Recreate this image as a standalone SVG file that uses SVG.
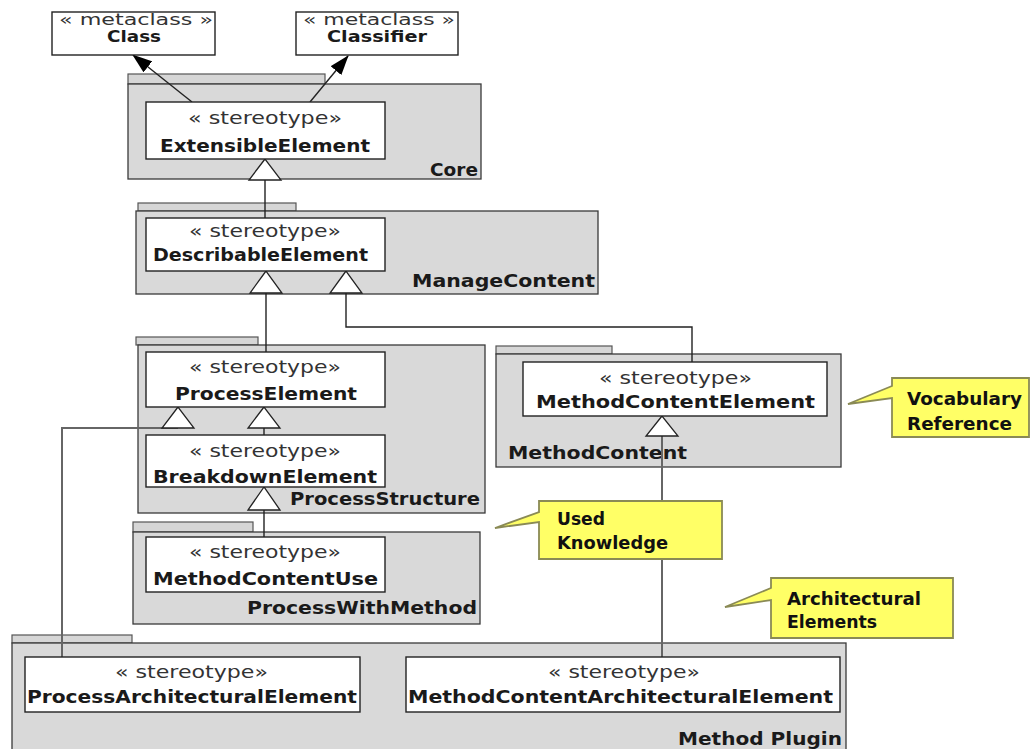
<svg xmlns="http://www.w3.org/2000/svg" width="1032" height="749" viewBox="0 0 1032 749">
<style>
.pkg{fill:#d9d9d9;stroke:#3a3a3a;stroke-width:1.3}
.tab{fill:#d6d6d6;stroke:#555;stroke-width:1.2}
.box{fill:#fff;stroke:#222;stroke-width:1.4}
.st{font-family:"DejaVu Sans",sans-serif;font-size:17px;fill:#333}
.mc{font-family:"DejaVu Sans",sans-serif;font-size:15px;fill:#333}
.nm{font-family:"DejaVu Sans",sans-serif;font-size:18px;font-weight:bold;fill:#1a1a1a}
.mn{font-family:"DejaVu Sans",sans-serif;font-size:15px;font-weight:bold;fill:#1a1a1a}
.pn{font-family:"DejaVu Sans",sans-serif;font-size:18px;font-weight:bold;fill:#1a1a1a}
.co{fill:#ffff66;stroke:#8a8a55;stroke-width:1.8}
.ct{font-family:"DejaVu Sans",sans-serif;font-size:17px;font-weight:bold;fill:#111}
.ln{fill:none;stroke:#222;stroke-width:1.4}
.lg{fill:none;stroke:#666;stroke-width:2}
.tri{fill:#fff;stroke:#222;stroke-width:1.3}
</style>
<defs>
<marker id="filled" viewBox="0 0 20 14" refX="19" refY="7" markerWidth="20" markerHeight="14" markerUnits="userSpaceOnUse" orient="auto">
<path d="M0,0 L20,7 L0,14 Z" fill="#000"/>
</marker>
</defs>

<g id="pkg-method-plugin">
<rect class="tab" x="12" y="635" width="120" height="8"/>
<rect class="pkg" x="12" y="643" width="834" height="120"/>
<text class="pn" x="678" y="745" textLength="164" lengthAdjust="spacingAndGlyphs">Method Plugin</text>
</g>

<g id="pkg-core">
<rect class="tab" x="128" y="74" width="197" height="10"/>
<rect class="pkg" x="128" y="84" width="353" height="95"/>
<text class="pn" x="430" y="176" textLength="48" lengthAdjust="spacingAndGlyphs">Core</text>
</g>

<g id="pkg-managecontent">
<rect class="tab" x="138" y="203" width="158" height="8"/>
<rect class="pkg" x="136" y="211" width="462" height="83"/>
<text class="pn" x="412" y="287" textLength="183" lengthAdjust="spacingAndGlyphs">ManageContent</text>
</g>

<g id="pkg-processstructure">
<rect class="tab" x="136" y="337" width="122" height="8"/>
<rect class="pkg" x="138" y="345" width="347" height="168"/>
<text class="pn" x="290" y="505" textLength="190" lengthAdjust="spacingAndGlyphs">ProcessStructure</text>
</g>

<g id="pkg-processwithmethod">
<rect class="tab" x="133" y="522" width="120" height="10"/>
<rect class="pkg" x="133" y="532" width="347" height="92"/>
<text class="pn" x="247" y="614" textLength="230" lengthAdjust="spacingAndGlyphs">ProcessWithMethod</text>
</g>

<g id="pkg-methodcontent">
<rect class="tab" x="496" y="346" width="116" height="8"/>
<rect class="pkg" x="496" y="354" width="345" height="113"/>
<text class="pn" x="508" y="459" textLength="179" lengthAdjust="spacingAndGlyphs">MethodContent</text>
</g>

<g id="connectors">
<line class="ln" x1="192" y1="102" x2="133" y2="55" marker-end="url(#filled)"/>
<line class="ln" x1="310" y1="102" x2="348" y2="56" marker-end="url(#filled)"/>
<line class="ln" x1="265" y1="180" x2="265" y2="218"/>
<line class="ln" x1="266" y1="293" x2="266" y2="352"/>
<polyline class="ln" points="346,293 346,327 692,327 692,362"/>
<line class="ln" x1="264" y1="428" x2="264" y2="435"/>
<polyline class="lg" points="178,428 62,428 62,657"/>
<line class="ln" x1="264" y1="510" x2="264" y2="537"/>
<line class="lg" x1="662" y1="436" x2="662" y2="657"/>
<polygon class="tri" points="265,159 249,180 281,180"/>
<polygon class="tri" points="266,271 250,293 282,293"/>
<polygon class="tri" points="346,271 330,293 362,293"/>
<polygon class="tri" points="178,407 162,428 194,428"/>
<polygon class="tri" points="264,407 248,428 280,428"/>
<polygon class="tri" points="264,487 248,510 280,510"/>
<polygon class="tri" points="662,416 646,436 678,436"/>
</g>

<g id="class">
<rect class="box" x="52" y="12" width="163" height="43"/>
<text class="mc" x="59" y="25" textLength="154" lengthAdjust="spacingAndGlyphs">« metaclass »</text>
<text class="mn" x="107" y="42" textLength="54" lengthAdjust="spacingAndGlyphs">Class</text>
</g>

<g id="classifier">
<rect class="box" x="296" y="12" width="162" height="43"/>
<text class="mc" x="303" y="25" textLength="152" lengthAdjust="spacingAndGlyphs">« metaclass »</text>
<text class="mn" x="327" y="42" textLength="100" lengthAdjust="spacingAndGlyphs">Classifier</text>
</g>

<g id="extensible-element">
<rect class="box" x="146" y="102" width="239" height="57"/>
<text class="st" x="188" y="124" textLength="154" lengthAdjust="spacingAndGlyphs">« stereotype»</text>
<text class="nm" x="160" y="152" textLength="210" lengthAdjust="spacingAndGlyphs">ExtensibleElement</text>
</g>

<g id="describable-element">
<rect class="box" x="146" y="218" width="239" height="53"/>
<text class="st" x="189" y="237" textLength="152" lengthAdjust="spacingAndGlyphs">« stereotype»</text>
<text class="nm" x="153" y="261" textLength="215" lengthAdjust="spacingAndGlyphs">DescribableElement</text>
</g>

<g id="process-element">
<rect class="box" x="146" y="352" width="239" height="55"/>
<text class="st" x="189" y="373" textLength="152" lengthAdjust="spacingAndGlyphs">« stereotype»</text>
<text class="nm" x="175" y="400" textLength="182" lengthAdjust="spacingAndGlyphs">ProcessElement</text>
</g>

<g id="breakdown-element">
<rect class="box" x="146" y="435" width="239" height="52"/>
<text class="st" x="189" y="457" textLength="152" lengthAdjust="spacingAndGlyphs">« stereotype»</text>
<text class="nm" x="153" y="483" textLength="224" lengthAdjust="spacingAndGlyphs">BreakdownElement</text>
</g>

<g id="method-content-use">
<rect class="box" x="146" y="537" width="239" height="55"/>
<text class="st" x="189" y="558" textLength="152" lengthAdjust="spacingAndGlyphs">« stereotype»</text>
<text class="nm" x="153" y="585" textLength="225" lengthAdjust="spacingAndGlyphs">MethodContentUse</text>
</g>

<g id="method-content-element">
<rect class="box" x="523" y="362" width="304" height="54"/>
<text class="st" x="599" y="384" textLength="153" lengthAdjust="spacingAndGlyphs">« stereotype»</text>
<text class="nm" x="536" y="408" textLength="279" lengthAdjust="spacingAndGlyphs">MethodContentElement</text>
</g>

<g id="process-architectural-element">
<rect class="box" x="25" y="657" width="335" height="55"/>
<text class="st" x="115" y="678" textLength="153" lengthAdjust="spacingAndGlyphs">« stereotype»</text>
<text class="nm" x="27" y="703" textLength="330" lengthAdjust="spacingAndGlyphs">ProcessArchitecturalElement</text>
</g>

<g id="method-content-architectural-element">
<rect class="box" x="406" y="657" width="434" height="55"/>
<text class="st" x="548" y="678" textLength="152" lengthAdjust="spacingAndGlyphs">« stereotype»</text>
<text class="nm" x="408" y="703" textLength="425" lengthAdjust="spacingAndGlyphs">MethodContentArchitecturalElement</text>
</g>

<g id="note-vocabulary">
<path class="co" d="M892,378 H1029 V437 H892 V398 L848,404 L892,386 Z"/>
<text class="ct" x="907" y="405" textLength="115" lengthAdjust="spacingAndGlyphs">Vocabulary</text>
<text class="ct" x="907" y="430" textLength="105" lengthAdjust="spacingAndGlyphs">Reference</text>
</g>

<g id="note-used-knowledge">
<path class="co" d="M539,501 H722 V559 H539 V522 L495,528 L539,512 Z"/>
<text class="ct" x="557" y="525" textLength="48" lengthAdjust="spacingAndGlyphs">Used</text>
<text class="ct" x="557" y="549" textLength="111" lengthAdjust="spacingAndGlyphs">Knowledge</text>
</g>

<g id="note-architectural">
<path class="co" d="M771,578 H953 V638 H771 V600 L725,607 L771,588 Z"/>
<text class="ct" x="787" y="605" textLength="134" lengthAdjust="spacingAndGlyphs">Architectural</text>
<text class="ct" x="787" y="628" textLength="90" lengthAdjust="spacingAndGlyphs">Elements</text>
</g>
</svg>
